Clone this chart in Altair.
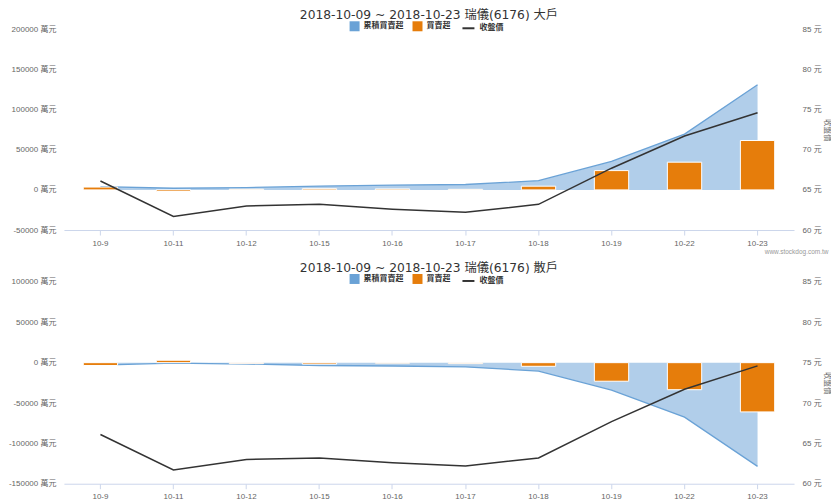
import altair as alt
import pandas as pd

# ---------------- data ----------------
dates = ["10-9", "10-11", "10-12", "10-15", "10-16", "10-17", "10-18", "10-19", "10-22", "10-23"]
close_price = [66.1, 61.7, 63.0, 63.2, 62.6, 62.2, 63.2, 67.7, 71.7, 74.6]

big_net = [3500, -2000, 800, 1500, 1200, 700, 4600, 24000, 34500, 61500]
big_cum = [4000, 2000, 2800, 4800, 6000, 6700, 11400, 35400, 69500, 131000]

small_net = [-3500, 3000, -1200, -1800, -600, -1200, -4500, -23000, -33500, -61000]
small_cum = [-3000, -500, -1700, -3500, -4100, -5300, -10400, -34000, -67500, -128500]

big_ticks = [-50000, 0, 50000, 100000, 150000, 200000]
small_ticks = [-150000, -100000, -50000, 0, 50000, 100000]
price_ticks = [60, 65, 70, 75, 80, 85]

series_names = ["累積買賣超", "買賣超", "收盤價"]
series_colors = ["#6aa2d6", "#e67d0b", "#333333"]

title_big = "2018-10-09 ~ 2018-10-23 瑞儀(6176) 大戶"
title_small = "2018-10-09 ~ 2018-10-23 瑞儀(6176) 散戶"
credit = "www.stockdog.com.tw"

FONT = "Liberation Sans, Noto Sans CJK TC, sans-serif"
TITLE_FONT = "DejaVu Sans, Noto Sans CJK TC, sans-serif"
W = 731


def legend_def(x, symbol):
    return alt.Legend(
        title=None,
        orient="none",
        legendX=x,
        legendY=-8,
        direction="horizontal",
        symbolType=symbol,
        symbolSize=144 if symbol == "stroke" else 100,
        symbolStrokeWidth=2 if symbol == "stroke" else 0,
        symbolOpacity=1,
        labelFontSize=8,
        labelFontWeight="bold",
        labelColor="#333333",
        labelFont=FONT,
        labelOffset=4,
        columnPadding=9,
        padding=0,
    )


def panel(title, net, cum, ticks, height, legend_x, with_credit):
    df = pd.DataFrame({"date": dates, "net": net, "cum": cum, "close": close_price})
    color_scale = alt.Scale(domain=series_names[:2], range=series_colors[:2])
    stroke_scale = alt.Scale(domain=series_names[2:], range=series_colors[2:])

    axis_kwargs = dict(
        labelAngle=0,
        labelColor="#666666",
        labelFontSize=8,
        labelFont=FONT,
        domainColor="#ccd6eb",
        tickColor="#ccd6eb",
        tickSize=5,
        grid=False,
        labelPadding=4,
    )
    if with_credit:
        x_axis = alt.Axis(
            title=credit,
            titleFontSize=6.5,
            titleColor="#999999",
            titleFontWeight="normal",
            titleFont=FONT,
            titleAlign="right",
            titleAnchor="end",
            titleBaseline="middle",
            titleX=W + 34,
            titleY=21,
            **axis_kwargs,
        )
    else:
        x_axis = alt.Axis(title=None, **axis_kwargs)

    x = alt.X("date:N", sort=dates, scale=alt.Scale(paddingInner=0, paddingOuter=0), axis=x_axis)

    left_scale = alt.Scale(domain=[ticks[0], ticks[-1]], nice=False, zero=False)
    left_axis = alt.Axis(
        orient="left",
        values=ticks,
        labelExpr="datum.value + ' 萬元'",
        title=None,
        grid=False,
        domain=False,
        ticks=False,
        labelColor="#666666",
        labelFontSize=8,
        labelFont=FONT,
        labelPadding=8,
    )

    base = alt.Chart(df)
    area = base.mark_area(fillOpacity=0.52, line={"strokeWidth": 1.3}).transform_calculate(
        series=f"'{series_names[0]}'"
    ).encode(
        x=x,
        y=alt.Y("cum:Q", scale=left_scale, axis=left_axis),
        color=alt.Color("series:N", scale=color_scale, legend=legend_def(legend_x, "square")),
    )
    bars = base.mark_bar(stroke="white", strokeWidth=1, width=alt.RelativeBandSize(0.47)).transform_calculate(
        series=f"'{series_names[1]}'"
    ).encode(
        x=x,
        y=alt.Y("net:Q", scale=left_scale, axis=left_axis),
        color=alt.Color("series:N", scale=color_scale, legend=legend_def(legend_x, "square")),
    )
    line = base.mark_line(strokeWidth=1.5).transform_calculate(
        series=f"'{series_names[2]}'"
    ).encode(
        x=x,
        y=alt.Y(
            "close:Q",
            scale=alt.Scale(domain=[price_ticks[0], price_ticks[-1]], nice=False, zero=False),
            axis=alt.Axis(
                orient="right",
                values=price_ticks,
                labelExpr="datum.value + ' 元'",
                title="收盤價",
                titleFontSize=7.5,
                titleFontWeight="normal",
                titleColor="#666666",
                titleFont=FONT,
                titlePadding=1,
                grid=False,
                domain=False,
                ticks=False,
                labelColor="#666666",
                labelFontSize=8,
                labelFont=FONT,
                labelPadding=8,
            ),
        ),
        stroke=alt.Stroke("series:N", scale=stroke_scale, legend=legend_def(legend_x + 112, "stroke")),
    )

    return alt.layer(alt.layer(area, bars), line).resolve_scale(y="independent").properties(
        width=W,
        height=height,
        title=alt.TitleParams(
            title,
            fontSize=12.3,
            font=TITLE_FONT,
            fontWeight="normal",
            color="#333333",
            anchor="middle",
            offset=0,
        ),
    )


top = panel(title_big, big_net, big_cum, big_ticks, 201, 286, True)
bottom = panel(title_small, small_net, small_cum, small_ticks, 202, 286, False)

chart = (
    alt.vconcat(top, bottom, spacing=6)
    .resolve_scale(color="independent", stroke="independent")
    .resolve_legend(color="independent", stroke="independent")
    .properties(padding={"left": 0, "top": 0, "right": 0, "bottom": 0})
    .configure_view(stroke=None)
)

chart.save("out.html", embed_options={"renderer": "svg", "actions": False})
